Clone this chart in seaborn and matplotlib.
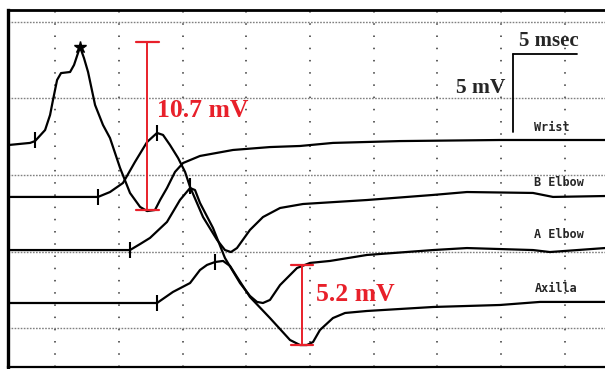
import pandas as pd
import matplotlib
matplotlib.use("Agg")
import matplotlib.pyplot as plt
import seaborn as sns

# traces: time (ms) and displayed level (mV, stacked display)
wrist_t = [-3.69, -1.96, -1.57, -0.78, -0.39, -0.16, 0.16, 0.47, 1.18, 1.49, 1.96, 2.27, 2.59,
           3.14, 3.76, 4.31, 5.10, 5.88, 6.67, 7.22, 7.84, 8.24, 8.78, 9.41, 10.04, 11.37,
           13.96, 16.86, 19.22, 21.80, 27.06, 34.90, 43.14]
wrist_v = [11.95, 12.09, 12.21, 12.93, 13.91, 14.89, 16.19, 16.64, 16.71, 17.17, 18.34, 17.62, 16.71,
           14.56, 13.26, 12.41, 10.46, 8.83, 7.92, 7.65, 7.72, 8.37, 9.15, 10.20, 10.78, 11.24,
           11.63, 11.82, 11.89, 12.09, 12.21, 12.28, 12.28]

belbow_t = [-3.69, 3.37, 4.31, 5.33, 6.27, 7.22, 8.0, 8.47, 9.02, 9.65, 10.20, 10.59, 11.61,
            12.71, 13.33, 13.80, 14.27, 15.29, 16.31, 17.65, 19.45, 24.47, 29.65, 32.31,
            37.49, 39.06, 43.14]
belbow_v = [8.57, 8.57, 8.89, 9.48, 10.85, 12.15, 12.74, 12.61, 11.95, 11.11, 10.20, 9.22, 7.26,
            5.77, 5.11, 4.98, 5.24, 6.42, 7.26, 7.85, 8.11, 8.37, 8.70, 8.89,
            8.83, 8.57, 8.63]

aelbow_t = [-3.69, 5.88, 6.67, 7.45, 8.78, 9.80, 10.59, 10.98, 11.37, 12.39, 13.33, 14.51,
            15.29, 15.84, 16.31, 16.86, 17.65, 18.98, 20.0, 21.57, 24.47, 29.65, 32.31,
            37.49, 38.82, 43.14]
aelbow_v = [5.11, 5.11, 5.50, 5.90, 6.94, 8.37, 9.15, 9.02, 8.18, 6.55, 4.59, 2.96,
            2.12, 1.73, 1.66, 1.86, 2.83, 3.94, 4.27, 4.40, 4.79, 5.11, 5.24,
            5.11, 4.98, 5.24]

axilla_t = [-3.69, 8.0, 9.25, 10.59, 11.37, 11.92, 12.55, 13.18, 13.73, 14.27, 15.29, 16.86,
            18.43, 19.22, 19.76, 20.24, 20.78, 21.80, 22.75, 24.47, 29.65, 34.90, 38.04, 43.14]
axilla_v = [1.66, 1.66, 2.38, 2.96, 3.81, 4.14, 4.33, 4.40, 4.07, 3.36, 2.05, 0.68,
            -0.75, -1.08, -1.08, -0.88, -0.10, 0.68, 1.01, 1.14, 1.40, 1.53, 1.73, 1.73]

site_names = ["Wrist", "B Elbow", "A Elbow", "Axilla"]
label_pos = [(37.6, 13.1), (37.6, 9.5), (37.6, 6.1), (37.6, 2.6)]

# stimulus marks and peak marks
stim_t = [-1.57, 3.37, 5.88, 8.0]
stim_v = [12.28, 8.57, 5.11, 1.66]
peak_t = [8.0, 10.59, 12.55]
peak_v = [12.74, 9.28, 4.33]
star_t, star_v = 1.96, 18.34

# amplitude measurements
amp1_t, amp1_top, amp1_bot, amp1_text = 7.22, 18.66, 7.72, "10.7 mV"
amp2_t, amp2_top, amp2_bot, amp2_text = 19.37, 4.14, -1.08, "5.2 mV"

traces = pd.concat([
    pd.DataFrame({"t": wrist_t, "v": wrist_v, "site": "Wrist"}),
    pd.DataFrame({"t": belbow_t, "v": belbow_v, "site": "B Elbow"}),
    pd.DataFrame({"t": aelbow_t, "v": aelbow_v, "site": "A Elbow"}),
    pd.DataFrame({"t": axilla_t, "v": axilla_v, "site": "Axilla"}),
])

sns.set_style("white")
fig = plt.figure(figsize=(6.05, 3.69), dpi=100)
ax = fig.add_axes([8 / 605, 2 / 369, 1 - 8 / 605, 357 / 369])

# grid
for gx in range(0, 45, 5):
    ax.axvline(gx, color="#333333", lw=1.1, ls=(0, (1, 7)), zorder=0)
for gy in range(0, 25, 5):
    ax.axhline(gy, color="#808080", lw=1.0, ls=(0, (1.2, 1.0)), zorder=0)

for name in site_names:
    sub = traces[traces["site"] == name]
    sns.lineplot(data=sub, x="t", y="v", sort=False, estimator=None, color="black",
                 lw=1.6, ax=ax, legend=False)

sns.scatterplot(x=stim_t, y=stim_v, marker="|", s=120, color="black", linewidth=1.5, ax=ax)
sns.scatterplot(x=peak_t, y=peak_v, marker="|", s=120, color="black", linewidth=1.5, ax=ax)
ax.plot(star_t, star_v, marker="*", ms=9, color="black")

for name, (lx, ly) in zip(site_names, label_pos):
    ax.text(lx, ly, name, fontsize=8.5, family="DejaVu Sans Mono", weight="bold", va="center")

red = "#e8202a"
for t, top, bot in [(amp1_t, amp1_top, amp1_bot), (amp2_t, amp2_top, amp2_bot)]:
    ax.plot([t, t], [bot, top], color=red, lw=1.4)
    ax.plot([t - 0.9, t + 0.9], [top, top], color=red, lw=1.6)
    ax.plot([t - 0.9, t + 0.9], [bot, bot], color=red, lw=1.6)
ax.text(8.0, 14.2, amp1_text, color=red, fontsize=18.5, family="Liberation Serif",
        weight="bold", va="center")
ax.text(20.45, 2.2, amp2_text, color=red, fontsize=18.5, family="Liberation Serif",
        weight="bold", va="center")

# calibration bar
ax.plot([35.92, 40.95], [17.88, 17.88], color="black", lw=1.3)
ax.plot([35.92, 35.92], [17.88, 12.78], color="black", lw=1.3)
ax.text(38.7, 18.75, "5 msec", fontsize=15, family="Liberation Serif", weight="bold",
        ha="center", va="center")
ax.text(35.3, 15.7, "5 mV", fontsize=15.5, family="Liberation Serif", weight="bold",
        ha="right", va="center")

ax.set_xlim(-3.69, 43.14)
ax.set_ylim(-2.51, 20.75)
ax.set_xticks([])
ax.set_yticks([])
ax.set_xlabel("")
ax.set_ylabel("")
ax.spines["right"].set_visible(False)
ax.spines["left"].set_linewidth(2.4)
ax.spines["top"].set_linewidth(2.0)
ax.spines["bottom"].set_linewidth(1.6)
for s in ["left", "top", "bottom"]:
    ax.spines[s].set_color("black")

fig.savefig("out.png", dpi=100)
